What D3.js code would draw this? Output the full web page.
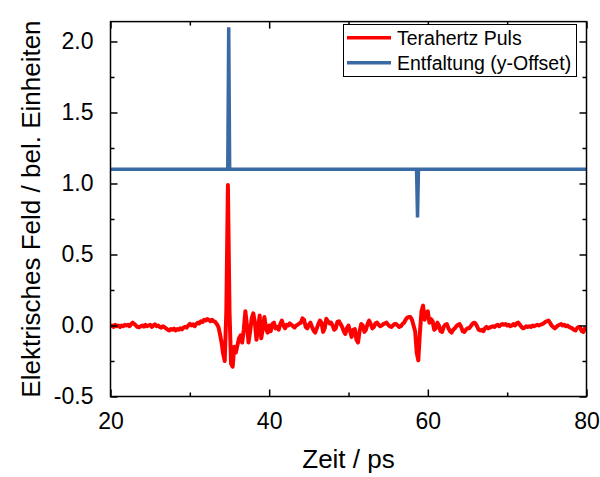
<!DOCTYPE html>
<html>
<head>
<meta charset="utf-8">
<script src="https://cdn.jsdelivr.net/npm/d3@7"></script>
<style>
  html, body { margin: 0; padding: 0; background: #fff; }
  svg { display: block; font-family: "Liberation Sans", Arial, sans-serif; }
</style>
</head>
<body>
<svg id="chart" width="600" height="477"></svg>
<script>
// ---- data ----
const tStart = 20, tStep = 0.2;
// Terahertz Puls, sampled every 0.2 ps from 20 ps to 80 ps
const pulseValues = [
  -0.005, 0.0, -0.01, 0.005, -0.005, 0.0, -0.01, 0.0, -0.005, 0.005,
  0.0, 0.005, -0.005, 0.01, 0.02, 0.01, 0.0, -0.01, -0.012, -0.005,
  0.0, -0.008, 0.005, -0.005, 0.0, 0.005, -0.01, 0.0, 0.008, -0.005,
  0.0, -0.01, -0.015, -0.005, -0.012, -0.02, -0.03, -0.035, -0.025, -0.03,
  -0.022, -0.035, -0.025, -0.03, -0.02, -0.028, -0.015, -0.01, -0.015, 0.0,
  0.012, 0.0, 0.008, -0.005, 0.01, 0.02, 0.015, 0.03, 0.025, 0.04,
  0.035, 0.045, 0.04, 0.03, 0.04, 0.03, 0.025, 0.01, -0.01, -0.06,
  -0.12, -0.2, -0.25, 0.1, 0.99, 0.1, -0.27, -0.29, -0.15, -0.19,
  -0.14, -0.09, -0.07, -0.12, -0.03, 0.1, 0.0, -0.12, -0.04, 0.05,
  0.085, 0.02, -0.1, -0.02, 0.07, -0.09, -0.02, 0.06, -0.02, -0.05,
  0.0, -0.04, 0.01, 0.02, -0.02, -0.01, -0.03, 0.01, 0.035, 0.0,
  -0.02, 0.005, 0.0, 0.015, 0.005, -0.005, -0.015, 0.0, 0.005, 0.015,
  0.02, 0.05, 0.04, -0.01, -0.02, 0.005, 0.02, -0.01, -0.035, -0.05,
  -0.02, 0.01, 0.035, 0.02, -0.045, -0.02, 0.047, 0.03, 0.015, 0.02,
  0.0, -0.03, -0.02, 0.025, 0.03, 0.01, -0.01, -0.04, -0.06, -0.02,
  0.0, -0.04, -0.08, -0.03, -0.025, -0.1, -0.12, -0.04, 0.01, 0.0,
  -0.045, -0.03, 0.01, 0.035, 0.01, -0.02, -0.01, 0.015, 0.02, 0.005,
  -0.005, 0.0, 0.01, 0.015, 0.02, 0.005, -0.005, -0.01, 0.0, 0.01,
  0.01, 0.0, -0.01, -0.005, 0.01, 0.02, 0.04, 0.055, 0.06, 0.06,
  0.04, 0.0, -0.04, -0.19, -0.245, -0.05, 0.1, 0.14, 0.04, 0.09,
  0.1, 0.02, 0.045, 0.03, -0.03, -0.02, 0.02, 0.0, -0.04, -0.045,
  -0.01, 0.005, 0.01, -0.02, -0.04, -0.05, -0.03, -0.02, -0.005, 0.005,
  0.01, -0.01, -0.04, -0.045, -0.03, -0.02, -0.02, -0.005, 0.01, 0.02,
  0.015, -0.005, -0.03, -0.035, -0.03, -0.04, -0.02, -0.01, -0.02, -0.015,
  -0.01, -0.005, -0.01, 0.0, 0.005, -0.005, 0.005, 0.01, 0.005, 0.01,
  0.0, 0.005, -0.005, 0.0, 0.01, 0.0, 0.015, 0.02, 0.005, -0.01,
  -0.02, -0.015, -0.005, -0.01, -0.005, -0.01, 0.0, -0.005, 0.0, 0.005,
  0.0, 0.005, 0.01, 0.015, 0.025, 0.03, 0.035, 0.02, 0.0, -0.01,
  -0.02, -0.01, 0.0, 0.005, 0.01, 0.0, 0.005, -0.005, 0.0, -0.01,
  -0.015, -0.02, -0.03, -0.035, -0.02, -0.01, -0.015, -0.04, -0.045, -0.02,
  -0.03
];
// Entfaltung (y-Offset)
const deconvTimes  = [20, 34.78, 34.9, 35.02, 58.58, 58.7, 58.82, 80];
const deconvValues = [1.1, 1.1, 2.1, 1.1, 1.1, 0.76, 1.1, 1.1];

const xMajorTicks = [20, 40, 60, 80];
const xMinorTicks = [30, 50, 70];
const yMajorTicks = [-0.5, 0.0, 0.5, 1.0, 1.5, 2.0];
const yMinorTicks = [-0.25, 0.25, 0.75, 1.25, 1.75];
const seriesNames = ["Terahertz Puls", "Entfaltung (y-Offset)"];
const seriesColors = ["#ff0000", "#3a6aa3"];
const xTitle = "Zeit / ps";
const yTitle = "Elektrisches Feld / bel. Einheiten";

// ---- layout ----
const L = 110.5, R = 586.5, T = 21.6, B = 396.5;
const svg = d3.select("#chart");

const x = d3.scaleLinear().domain([20, 80]).range([L, R]);
const y = d3.scaleLinear().domain([-0.5, 2.14]).range([B, T]);

const pulse = pulseValues.map((v, i) => ({ t: tStart + i * tStep, v }));
const deconv = deconvTimes.map((t, i) => ({ t, v: deconvValues[i] }));

svg.append("clipPath").attr("id", "clip")
  .append("rect").attr("x", L).attr("y", T).attr("width", R - L).attr("height", B - T);

const line = d3.line().x(d => x(d.t)).y(d => y(d.v));

const plot = svg.append("g").attr("clip-path", "url(#clip)");
plot.append("path").datum(deconv)
  .attr("d", line).attr("fill", "none")
  .attr("stroke", seriesColors[1]).attr("stroke-width", 3.5);
plot.append("path").datum(pulse)
  .attr("d", line).attr("fill", "none")
  .attr("stroke", seriesColors[0]).attr("stroke-width", 4)
  .attr("stroke-linejoin", "round");

// ---- axes (inward ticks on all four sides) ----
const majorLen = 7, minorLen = 4;
const yFmt = d => d3.format(".1f")(d).replace("\u2212", "-");
function styleAxis(g) {
  g.select(".domain").remove();
  g.selectAll(".tick line").attr("stroke", "#000").attr("stroke-width", 1.5);
}
// bottom
svg.append("g").attr("transform", `translate(0,${B})`)
  .call(d3.axisBottom(x).tickValues(xMajorTicks).tickSizeInner(-majorLen).tickSizeOuter(0)
        .tickPadding(16).tickFormat(d3.format("d")))
  .call(styleAxis)
  .call(g => g.selectAll("text").attr("font-size", 23).attr("fill", "#000")
        .attr("font-family", "Liberation Sans, Arial, sans-serif"));
svg.append("g").attr("transform", `translate(0,${B})`)
  .call(d3.axisBottom(x).tickValues(xMinorTicks).tickSizeInner(-minorLen).tickSizeOuter(0).tickFormat(""))
  .call(styleAxis);
// top
svg.append("g").attr("transform", `translate(0,${T})`)
  .call(d3.axisTop(x).tickValues(xMajorTicks).tickSizeInner(-majorLen).tickSizeOuter(0).tickFormat(""))
  .call(styleAxis);
svg.append("g").attr("transform", `translate(0,${T})`)
  .call(d3.axisTop(x).tickValues(xMinorTicks).tickSizeInner(-minorLen).tickSizeOuter(0).tickFormat(""))
  .call(styleAxis);
// left
svg.append("g").attr("transform", `translate(${L},0)`)
  .call(d3.axisLeft(y).tickValues(yMajorTicks).tickSizeInner(-majorLen).tickSizeOuter(0)
        .tickPadding(17).tickFormat(yFmt))
  .call(styleAxis)
  .call(g => g.selectAll("text").attr("font-size", 23).attr("fill", "#000")
        .attr("font-family", "Liberation Sans, Arial, sans-serif"));
svg.append("g").attr("transform", `translate(${L},0)`)
  .call(d3.axisLeft(y).tickValues(yMinorTicks).tickSizeInner(-minorLen).tickSizeOuter(0).tickFormat(""))
  .call(styleAxis);
// right
svg.append("g").attr("transform", `translate(${R},0)`)
  .call(d3.axisRight(y).tickValues(yMajorTicks).tickSizeInner(-majorLen).tickSizeOuter(0).tickFormat(""))
  .call(styleAxis);
svg.append("g").attr("transform", `translate(${R},0)`)
  .call(d3.axisRight(y).tickValues(yMinorTicks).tickSizeInner(-minorLen).tickSizeOuter(0).tickFormat(""))
  .call(styleAxis);

// frame
svg.append("rect").attr("x", L).attr("y", T).attr("width", R - L).attr("height", B - T)
  .attr("fill", "none").attr("stroke", "#000").attr("stroke-width", 1.5);

// titles
svg.append("text").attr("x", (L + R) / 2).attr("y", 468).attr("text-anchor", "middle")
  .attr("font-size", 26).attr("fill", "#000").text(xTitle);
svg.append("text").attr("transform", `translate(40,${(T + B) / 2}) rotate(-90)`)
  .attr("text-anchor", "middle").attr("font-size", 26).attr("fill", "#000").text(yTitle);

// legend
const lg = svg.append("g");
lg.append("rect").attr("x", 343.5).attr("y", 24.5).attr("width", 233).attr("height", 52)
  .attr("fill", "#fff").attr("stroke", "#000").attr("stroke-width", 1);
seriesNames.forEach((name, i) => {
  const yy = 37.7 + i * 25;
  lg.append("line").attr("x1", 347).attr("x2", 391).attr("y1", yy).attr("y2", yy)
    .attr("stroke", seriesColors[i]).attr("stroke-width", 3.5);
  lg.append("text").attr("x", 397).attr("y", yy + 7).attr("font-size", 19.5)
    .attr("fill", "#000").text(name);
});
</script>
</body>
</html>
